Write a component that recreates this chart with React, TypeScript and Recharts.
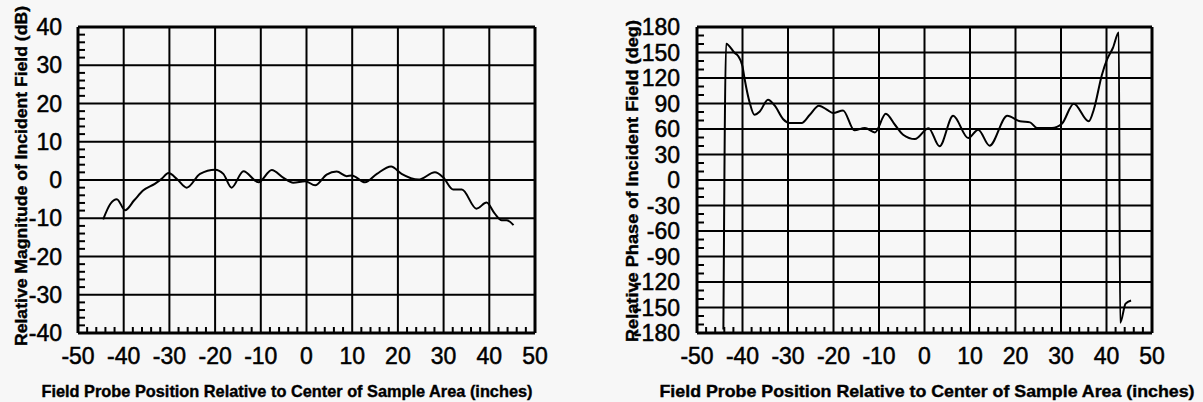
import React from "react";
import { LineChart, Line, XAxis, YAxis, ReferenceLine } from "recharts";

// Field probe scan across the sample area: magnitude (dB) and phase (deg)
const magnitudeX = [
  -44.5, -42.9, -41.5, -39.7, -37.7, -35.7, -33.2, -31.7, -30.2, -28.3, -26.2,
  -23.3, -20.0, -18.2, -16.4, -13.8, -10.5, -7.6, -5.1, -2.9, -0.3, 1.9, 4.4,
  6.6, 8.8, 9.9, 12.8, 15.4, 18.5, 20.8, 24.5, 28.1, 29.9, 32.1, 34.0, 37.2,
  39.4, 41.2, 42.7, 43.8, 45.3,
];
const magnitudeDb = [
  -10.3, -6.2, -5.0, -7.9, -5.3, -2.7, -1.0, 0.3, 1.8, 0.2, -2.0, 1.6, 2.7, 1.6,
  -2.0, 2.3, -0.6, 2.6, 0.6, -0.7, -0.3, -1.4, 1.4, 2.2, 1.0, 1.2, -0.6, 1.6,
  3.5, 1.6, 0.1, 2.0, 0.7, -2.5, -2.5, -7.5, -5.9, -8.8, -10.5, -10.5, -11.8,
];

const phaseX = [
  -44.2, -43.6, -41.7, -41.0, -40.0, -39.5, -38.4, -37.4, -36.2, -34.4, -32.9,
  -31.1, -29.6, -27.0, -25.2, -23.2, -21.2, -20.1, -17.9, -15.4, -13.1, -10.9,
  -8.5, -6.5, -4.7, -2.1, 0.9, 3.3, 6.3, 9.6, 11.8, 14.3, 18.2, 21.0, 23.2,
  24.7, 28.0, 30.2, 32.8, 36.1, 37.2, 39.0, 40.1, 41.4, 42.7, 43.0, 44.2, 45.4,
];
const phaseDeg = [
  -176, 160.4, 149.4, 146.2, 133.7, 118, 90.6, 76.8, 80.7, 94.5, 87.4, 71.8,
  67.1, 67.1, 76.8, 87.4, 81.9, 78.8, 81.9, 58.4, 61.2, 56, 78, 65, 53.3, 48.2,
  61, 39.6, 75.6, 49.4, 59.2, 40.4, 75.6, 69, 67.8, 61.2, 61.2, 66.2, 89.8, 69,
  82.7, 123.9, 141.5, 155.3, 173.6, -168, -145.4, -141.8,
];

const xMajor = [-50, -40, -30, -20, -10, 0, 10, 20, 30, 40, 50];
const magMajor = [-40, -30, -20, -10, 0, 10, 20, 30, 40];
const phaseMajor = [
  -180, -150, -120, -90, -60, -30, 0, 30, 60, 90, 120, 150, 180,
];

const FONT = '"Liberation Sans", Arial, Helvetica, sans-serif';
const INK = "#000";
const PLOT_H = 306;

const steps = (lo: number, hi: number, step: number) => {
  const out: number[] = [];
  for (let v = lo; v <= hi + 1e-9; v += step) out.push(Math.round(v * 100) / 100);
  return out;
};

const zip = (xs: number[], ys: number[]) => xs.map((x, i) => ({ x, v: ys[i] }));

const XTick = ({ x, y, payload }: any) => (
  <text
    x={x}
    y={y + 31}
    textAnchor="middle"
    fontSize={23}
    fontFamily={FONT}
    fill={INK}
    stroke={INK}
    strokeWidth={0.5}
  >
    {payload.value}
  </text>
);

const makeYTick = (gap: number) => ({ x, y, payload }: any) => (
  <text
    x={x - gap}
    y={y + 8}
    textAnchor="end"
    fontSize={23}
    fontFamily={FONT}
    fill={INK}
    stroke={INK}
    strokeWidth={0.5}
  >
    {payload.value}
  </text>
);

type PanelProps = {
  left: number;
  width: number;
  marginLeft: number;
  marginRight: number;
  data: { x: number; v: number }[];
  yMajor: number[];
  yMinorStep: number;
  labelGap: number;
  yTitle: string;
  yTitleX: number;
  yTitleY: number;
  yTitleLen: number;
  xTitleX: number;
  xTitleLen: number;
};

const Panel = (p: PanelProps) => {
  const yLo = p.yMajor[0];
  const yHi = p.yMajor[p.yMajor.length - 1];
  const plotW = p.width - p.marginLeft - 60 - p.marginRight;
  // minor tick lengths converted from pixels to data units
  const xTickLen = (7 * 100) / plotW;
  const yTickLen = (6 * (yHi - yLo)) / PLOT_H;
  const xMinor = steps(-48, 48, 2).filter((v) => !xMajor.includes(v));
  const yMinor = steps(yLo + p.yMinorStep, yHi - p.yMinorStep, p.yMinorStep).filter(
    (v) => !p.yMajor.includes(v)
  );
  const titleStyle = {
    fontFamily: FONT,
    fontWeight: "bold" as const,
    fontSize: 17,
    fill: INK,
    stroke: INK,
    strokeWidth: 0.4,
  };
  return (
    <div style={{ position: "absolute", left: p.left, top: 0, width: p.width, height: 402 }}>
      <LineChart
        width={p.width}
        height={402}
        data={p.data}
        margin={{ top: 27, right: p.marginRight, left: p.marginLeft, bottom: 29 }}
      >
        <XAxis
          type="number"
          dataKey="x"
          domain={[-50, 50]}
          ticks={xMajor}
          interval={0}
          height={40}
          axisLine={false}
          tickLine={false}
          tickSize={0}
          tickMargin={0}
          tick={(props: any) => <XTick {...props} />}
        />
        <YAxis
          type="number"
          domain={[yLo, yHi]}
          ticks={p.yMajor}
          interval={0}
          width={60}
          axisLine={false}
          tickLine={false}
          tickSize={0}
          tickMargin={0}
          tick={makeYTick(p.labelGap)}
        />
        {xMinor.map((v) => (
          <ReferenceLine
            key={`mx${v}`}
            segment={[
              { x: v, y: yLo },
              { x: v, y: yLo + yTickLen },
            ]}
            stroke={INK}
            strokeWidth={2}
          />
        ))}
        {yMinor.map((v) => (
          <ReferenceLine
            key={`my${v}`}
            segment={[
              { x: -50, y: v },
              { x: -50 + xTickLen, y: v },
            ]}
            stroke={INK}
            strokeWidth={2}
          />
        ))}
        {xMajor.slice(1, -1).map((v) => (
          <ReferenceLine key={`vx${v}`} x={v} stroke={INK} strokeWidth={2} />
        ))}
        {p.yMajor.slice(1, -1).map((v) => (
          <ReferenceLine key={`hy${v}`} y={v} stroke={INK} strokeWidth={2} />
        ))}
        <ReferenceLine x={-50} stroke={INK} strokeWidth={3} />
        <ReferenceLine x={50} stroke={INK} strokeWidth={3} />
        <ReferenceLine y={yLo} stroke={INK} strokeWidth={3} />
        <ReferenceLine y={yHi} stroke={INK} strokeWidth={3} />
        <Line
          type="monotone"
          dataKey="v"
          stroke={INK}
          strokeWidth={2}
          dot={false}
          isAnimationActive={false}
        />
      </LineChart>
      <svg
        width={p.width}
        height={402}
        style={{ position: "absolute", left: 0, top: 0, pointerEvents: "none" }}
      >
        <text
          x={p.yTitleX}
          y={p.yTitleY}
          transform={`rotate(-90, ${p.yTitleX}, ${p.yTitleY})`}
          textAnchor="middle"
          textLength={p.yTitleLen}
          lengthAdjust="spacingAndGlyphs"
          {...titleStyle}
        >
          {p.yTitle}
        </text>
        <text
          x={p.xTitleX}
          y={397}
          textAnchor="middle"
          textLength={p.xTitleLen}
          lengthAdjust="spacingAndGlyphs"
          {...titleStyle}
        >
          Field Probe Position Relative to Center of Sample Area (inches)
        </text>
      </svg>
    </div>
  );
};

export default function App() {
  return (
    <div
      style={{
        position: "absolute",
        left: 0,
        top: 0,
        width: 1203,
        height: 402,
        background: "#f7f7f7",
        overflow: "hidden",
      }}
    >
      <Panel
        left={0}
        width={600}
        marginLeft={18}
        marginRight={65}
        data={zip(magnitudeX, magnitudeDb)}
        yMajor={magMajor}
        yMinorStep={2}
        labelGap={16}
        yTitle="Relative Magnitude of Incident Field (dB)"
        yTitleX={27}
        yTitleY={176}
        yTitleLen={340}
        xTitleX={287}
        xTitleLen={491}
      />
      <Panel
        left={600}
        width={603}
        marginLeft={37}
        marginRight={51}
        data={zip(phaseX, phaseDeg)}
        yMajor={phaseMajor}
        yMinorStep={10}
        labelGap={17}
        yTitle="Relative Phase of Incident Field (deg)"
        yTitleX={38}
        yTitleY={181}
        yTitleLen={322}
        xTitleX={327}
        xTitleLen={535}
      />
    </div>
  );
}
